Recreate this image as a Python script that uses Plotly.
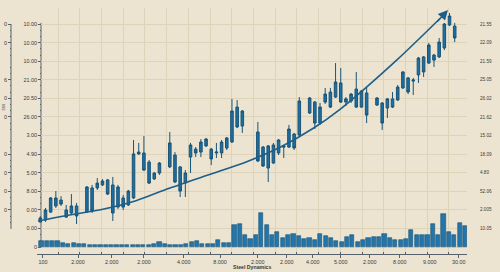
import plotly.graph_objects as go

# ---------------- data ----------------
day = [0,1,2,3,4,5,6,7,9,10,11,12,13,14,15,16,17,18,19,20,21,22,23,25,26,27,28,29,30,31,
       32,33,34,35,36,37,38,39,42,43,44,45,46,47,48,49,50,52,53,54,55,56,57,58,59,60,61,62,63,
       65,66,67,68,69,70,71,72,73,74,75,76,77,78,79,80]
open_ = [1.35,1.45,1.88,2.21,2.53,1.99,1.83,2.21,1.88,3.18,3.18,3.34,3.61,3.34,2.15,2.64,2.26,2.64,5.01,5.06,
         4.57,3.66,3.98,4.31,4.95,4.31,3.44,4.84,5.27,5.11,5.44,5.27,5.06,5.06,5.33,5.65,7.53,6.51,6.19,5.38,
         4.25,4.52,5.06,5.44,5.38,6.08,6.03,7.21,7.80,6.67,7.80,8.34,8.07,8.83,7.80,7.86,8.50,7.53,8.29,7.64,
         7.75,7.48,7.97,7.91,8.56,9.10,8.93,9.26,10.23,9.90,10.33,10.23,10.71,11.95,11.89]
close = [1.56,1.99,2.64,2.64,2.31,1.61,2.21,1.67,3.23,1.94,3.44,3.55,2.85,1.83,3.23,2.15,3.01,5.01,5.11,4.14,
         3.44,3.98,4.52,5.60,3.50,3.01,3.98,5.49,5.06,5.65,5.81,4.74,5.11,5.65,5.87,7.32,6.46,7.32,4.63,4.36,
         5.44,5.49,5.76,5.38,6.35,5.33,7.86,8.02,6.67,7.53,8.23,7.53,8.88,7.80,7.97,8.23,7.53,8.40,7.10,8.02,
         6.67,7.97,7.53,8.61,9.42,8.34,8.99,10.17,9.42,10.87,10.06,11.03,12.00,12.43,11.25]
high = [1.67,2.10,2.69,3.01,2.74,2.26,2.85,2.37,3.28,3.34,3.71,3.66,3.66,3.77,3.34,2.80,3.07,5.76,5.60,5.97,
        4.68,4.04,4.57,6.19,5.11,4.36,4.14,5.60,5.38,5.81,5.87,5.33,5.60,5.76,5.92,7.97,7.91,7.37,6.73,5.44,
        5.49,5.60,5.81,5.49,6.57,6.14,8.07,8.07,7.86,7.75,8.56,8.56,9.90,9.63,8.07,8.29,9.42,8.45,8.61,8.07,
        7.80,8.02,8.34,8.72,9.47,9.15,9.10,10.23,10.28,10.98,10.39,11.25,12.06,12.59,12.06]
low = [1.29,1.35,1.83,2.10,2.21,1.56,1.72,1.24,1.83,1.83,3.07,3.28,2.80,1.40,2.05,1.99,2.21,2.58,4.95,4.09,
       3.39,3.61,3.88,4.25,3.44,2.69,2.69,3.98,4.84,4.84,5.38,4.41,4.79,4.79,5.22,5.60,6.40,6.14,4.57,4.31,
       3.50,4.47,4.95,4.79,5.33,5.22,5.97,7.16,6.35,6.57,7.70,7.48,8.02,7.75,7.59,7.75,7.48,7.48,6.67,7.59,
       6.30,6.94,7.48,7.86,8.50,8.23,8.18,8.83,9.15,9.85,9.69,10.17,10.60,11.89,11.03]

vol_day = list(range(80))
volume = [0.31,0.31,0.32,0.31,0.24,0.18,0.24,0.18,0.16,0.11,0.11,0.11,0.12,0.12,0.09,0.09,0.09,0.11,0.11,0.11,
          0.12,0.16,0.27,0.15,
          0.09,0.09,0.09,0.15,0.27,0.32,0.15,0.15,0.16,0.36,0.23,0.23,1.17,1.22,0.66,0.45,0.66,1.85,1.20,0.66,
          0.81,0.50,0.63,0.72,0.58,0.41,0.50,0.39,0.72,0.58,0.50,0.31,
          0.27,0.54,0.63,0.27,0.38,0.47,0.55,0.55,0.72,0.50,0.36,0.36,0.41,0.91,0.63,0.63,0.63,1.22,0.65,1.76,
          0.81,0.66,1.31,1.13]

trend_day = [-0.44,5.6,12.05,18.47,24.9,33.4,39.85,46.29,52.7,57.86,68.8,77.16]
trend_val = [1.40,1.72,2.03,2.49,3.16,3.97,4.59,5.37,6.39,7.41,10.06,12.30]
arrow_tail = (76.4, 12.05)
arrow_head = (78.7, 12.76)

y_ticks = list(range(13))
left_labels = ["0","0.00","0.00","8.00","5.00","4.90","3.00","26.00","20.50","21.00","10.00","10.00","10.00"]
right_ticks = list(range(1, 13))
right_labels = ["10.05","2.005","52.06","4.80","18.09","15.02","21.62","26.02","25.05","21.59","22.09","21.55"]
outer_ticks = [2,3,4,5,7,8,9,11,12]
outer_labels = ["0","0","0","0","0","0","6","0","0"]
x_tick_pos = [0.5,7.3,13.8,20.0,27.7,34.7,42.0,47.6,52.6,58.0,63.6,69.4,75.2,80.8]
x_tick_labels = ["100","2.000","2.000","2.000","4.000","8.000","2.000","2.000","4.000","5.000",
                 "2.000","8.000","9.000","30.00"]
title_text = "Steel Dynamics"

# ---------------- style ----------------
BG = "#ece4d0"
GRID = "#ddd3b9"
BLUE = "#1f6fa0"
BLUE_DARK = "#185479"
AXIS = "#56636c"
TXT = "#3a3a3a"
FONT = "Liberation Sans"

W, H = 500, 272
xdom = [37 / W, 467 / W]
ydom = [1 - 253 / H, 1 - 8 / H]
yrange = [-0.323, 12.863]
xrange_c = [-0.637, 82.375]
xrange_v = [-0.84, 79.38]

inner_minor = [k / 3 for k in range(0, 37) if k % 3]
outer_minor = [k / 3 for k in range(3, 37) if k % 3]

fig = go.Figure()

# volume on (x2, y3) ; y3 is the outer-left axis (same range as y)
fig.add_trace(go.Bar(
    x=vol_day, y=volume, xaxis="x2", yaxis="y3", width=0.78,
    marker=dict(color="#2475aa", line=dict(color=BLUE_DARK, width=0.6)),
    showlegend=False, hoverinfo="skip"))

fig.add_trace(go.Candlestick(
    x=day, open=open_, high=high, low=low, close=close, xaxis="x", yaxis="y",
    increasing=dict(fillcolor=BLUE, line=dict(color=BLUE_DARK, width=1)),
    decreasing=dict(fillcolor=BLUE, line=dict(color=BLUE_DARK, width=1)),
    whiskerwidth=0, showlegend=False, hoverinfo="skip"))

# trend on (x, y2) ; y2 is the right axis (same range as y)
fig.add_trace(go.Scatter(
    x=trend_day, y=trend_val, mode="lines", xaxis="x", yaxis="y2",
    line=dict(color="#1d5f88", width=1.6, shape="spline", smoothing=0.8),
    showlegend=False, hoverinfo="skip"))

fig.add_annotation(
    x=arrow_head[0], y=arrow_head[1], ax=arrow_tail[0], ay=arrow_tail[1],
    xref="x", yref="y", axref="x", ayref="y", text="", showarrow=True,
    arrowhead=2, arrowsize=1.3, arrowwidth=1.5, arrowcolor="#1d5f88")

fig.add_annotation(
    x=252 / W, y=1 - 267 / H, xref="paper", yref="paper", text="<b>" + title_text + "</b>",
    showarrow=False, font=dict(family=FONT, size=5.2, color=TXT), xanchor="center", yanchor="middle")

fig.add_annotation(
    x=3.5 / W, y=1 - 107 / H, xref="paper", yref="paper", text="sss", textangle=-90,
    showarrow=False, font=dict(family=FONT, size=4.5, color="#555"), xanchor="center", yanchor="middle")

# axis lines drawn as shapes
fig.add_shape(type="line", xref="paper", yref="y", x0=41 / W, x1=41 / W, y0=0, y1=12.06,
              line=dict(color=AXIS, width=1), layer="below")
fig.add_shape(type="line", xref="paper", yref="y", x0=11 / W, x1=11 / W, y0=0.97, y1=12.0,
              line=dict(color=AXIS, width=1), layer="below")

tickfont = dict(family=FONT, size=5.4, color=TXT)

fig.update_layout(
    width=W, height=H, autosize=False,
    margin=dict(l=0, r=0, t=0, b=0, pad=0),
    paper_bgcolor=BG, plot_bgcolor=BG,
    showlegend=False, bargap=0,
    xaxis=dict(domain=xdom, range=xrange_c, anchor="free", position=1 - 254 / H, side="bottom",
               tickmode="array", tickvals=x_tick_pos, ticktext=x_tick_labels, automargin=False,
               ticks="outside", ticklen=3, tickcolor=AXIS, tickfont=tickfont, showgrid=False,
               zeroline=False, showline=True, linecolor=AXIS, linewidth=1,
               rangeslider=dict(visible=False), fixedrange=True,
               minor=dict(ticks="inside", ticklen=2, tickcolor=AXIS, tickmode="linear",
                          tick0=3.417, dtick=4.193, showgrid=True, gridcolor=GRID, gridwidth=1)),
    xaxis2=dict(domain=xdom, range=xrange_v, overlaying="x", anchor="y3", visible=False,
                automargin=False),
    yaxis=dict(domain=ydom, range=yrange, anchor="free", position=41 / W, side="left",
               tickmode="array", tickvals=y_ticks, ticktext=left_labels, ticks="outside",
               ticklen=3, tickcolor=AXIS, tickfont=tickfont, showgrid=True, gridcolor=GRID,
               gridwidth=1, zeroline=False, showline=False, automargin=False,
               minor=dict(ticks="outside", ticklen=1.5, tickcolor=AXIS, tickmode="array",
                          tickvals=inner_minor, showgrid=False)),
    yaxis2=dict(domain=ydom, range=yrange, overlaying="y", anchor="free", position=479 / W,
                side="right", tickmode="array", tickvals=right_ticks, ticktext=right_labels,
                ticks="", tickfont=dict(family=FONT, size=4.6, color=TXT), showgrid=False,
                zeroline=False, showline=False, automargin=False),
    yaxis3=dict(domain=ydom, range=yrange, overlaying="y", anchor="free", position=11 / W,
                side="left", tickmode="array", tickvals=outer_ticks, ticktext=outer_labels,
                ticks="outside", ticklen=3, tickcolor=AXIS, tickfont=tickfont, showgrid=False,
                zeroline=False, showline=False, automargin=False,
                minor=dict(ticks="outside", ticklen=1.5, tickcolor=AXIS, tickmode="array",
                           tickvals=outer_minor, showgrid=False)),
)

fig.write_html("out.html", config=dict(displayModeBar=False))
